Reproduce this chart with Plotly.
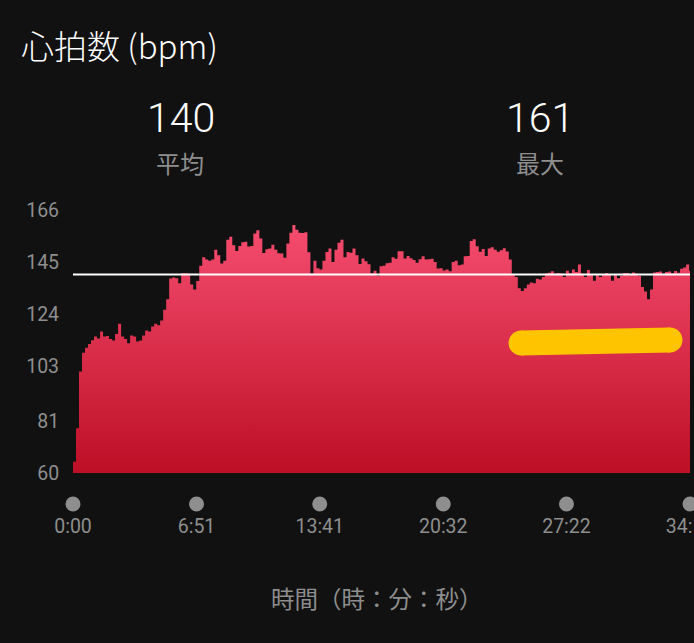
import plotly.graph_objects as go

# ---- data ----
seconds = list(range(0, 2051, 10)) + [2053]
bpm = [
    64.5, 78, 100.9, 108.5, 110.5, 112, 113.5, 115, 114.2, 117,
    115, 115.2, 114, 113.4, 116, 120.2, 115, 114, 112.3, 115.4,
    115, 113, 113.4, 115.4, 117.4, 117, 119, 120.2, 119.5, 121.5,
    125.8, 130, 138.4, 138.8, 138.5, 136.5, 140.5, 140.5, 140.4, 136,
    134, 137.4, 143.5, 147, 146, 145.5, 146, 150, 147.8, 144.4,
    145.5, 154, 155.2, 151.8, 149.5, 151.5, 153, 153.2, 151.3, 151.5,
    156.5, 157.8, 154.5, 148.7, 150.2, 150.5, 152, 150, 148.6, 148.5,
    146.8, 152.5, 156.8, 160, 158, 156.8, 156.7, 157, 149, 140.4,
    145.5, 142.5, 142, 145.5, 149.1, 150.5, 145, 150, 152.8, 154,
    147, 149.1, 148.8, 150.5, 147.8, 144.2, 146.5, 145.3, 144.1, 140.5,
    141.5, 139.5, 143.3, 143.5, 144.5, 144.7, 147, 146.4, 149.4, 149.4,
    146.5, 147.5, 146.6, 145.8, 144.7, 146.2, 147.4, 146, 146.2, 146.4,
    145, 142.4, 142.5, 141.6, 142, 141.3, 145, 145.5, 143.7, 144,
    147.4, 147.5, 153.5, 154.2, 151.4, 149.2, 150.3, 147.5, 150.5, 151,
    150, 149.2, 149.8, 150.6, 149.3, 146, 140.2, 139, 134.5, 133.4,
    134.5, 136, 136.8, 136.5, 138.3, 138, 139, 140.4, 140.7, 141.3,
    140.4, 140.6, 140.4, 139, 141.5, 140.5, 142, 141, 144, 140.3,
    139, 141.8, 140.2, 137.5, 139.7, 139, 140.1, 140.5, 140, 137.5,
    140, 138.5, 139.5, 140.6, 140.6, 140.2, 140.8, 140.4, 139.5, 135,
    133.2, 130, 134, 140.8, 141, 141.2, 140.3, 141, 141.2, 140.5,
    141.4, 140.7, 142.3, 142.8, 144, 141.5, 141,
]
avg_bpm = 140
max_bpm = 161
y_ticks = [60, 81, 103, 124, 145, 166]
x_tick_seconds = [0, 411, 821, 1232, 1642, 2053]
x_tick_labels = ["0:00", "6:51", "13:41", "20:32", "27:22", "34:13"]

title_text = "心拍数 (bpm)"
avg_label = "平均"
max_label = "最大"
x_title = "時間（時：分：秒）"

# ---- layout helpers (pixel -> paper) ----
W, H = 694, 643
L, R, T, B = 73, 4, 210, 170
PW, PH = W - L - R, H - T - B


def px(x):
    return (x - L) / PW


def py(y):
    return (H - B - y) / PH


BG = "#111111"
GRAY = "#8e8e8e"
CJK = "Noto Sans CJK JP"
NUM = "Roboto"

fig = go.Figure()
fig.add_trace(go.Scatter(
    x=seconds, y=bpm, mode="lines", line=dict(width=0, shape="hv"),
    fill="tozeroy",
    fillgradient=dict(type="vertical", start=60, stop=max_bpm,
                      colorscale=[[0, "#bd0f25"], [1, "#f64d70"]]),
    hoverinfo="skip", showlegend=False,
))

fig.add_shape(type="line", xref="paper", yref="y", x0=0, x1=1,
              y0=avg_bpm, y1=avg_bpm, line=dict(color="white", width=2))

# grey dots above the time tick labels
x_max = x_tick_seconds[-1]
for s in x_tick_seconds:
    fig.add_shape(type="circle", xref="paper", yref="paper",
                  xsizemode="pixel", ysizemode="pixel",
                  xanchor=s / x_max, yanchor=py(504),
                  x0=-7.5, x1=7.5, y0=-7.5, y1=7.5,
                  fillcolor=GRAY, line=dict(width=0))

# yellow marker scribble overlay
YEL = "#ffc400"
fig.add_shape(type="line", xref="paper", yref="paper",
              x0=px(521), x1=px(670), y0=py(343), y1=py(340),
              line=dict(color=YEL, width=25))
for cx, cy in [(521, 343), (670, 340)]:
    fig.add_shape(type="circle", xref="paper", yref="paper",
                  xsizemode="pixel", ysizemode="pixel",
                  xanchor=px(cx), yanchor=py(cy),
                  x0=-12.5, x1=12.5, y0=-12.5, y1=12.5,
                  fillcolor=YEL, line=dict(width=0))

ann = [
    dict(text=title_text, x=px(19), y=py(45), xanchor="left", yanchor="middle",
         font=dict(family=CJK, size=33, color="white", weight=300)),
    dict(text=str(avg_bpm), x=px(181), y=py(118), xanchor="center", yanchor="middle",
         font=dict(family=NUM, size=41, color="white", weight=300)),
    dict(text=avg_label, x=px(180), y=py(163), xanchor="center", yanchor="middle",
         font=dict(family=CJK, size=24, color=GRAY)),
    dict(text=str(max_bpm), x=px(540), y=py(118), xanchor="center", yanchor="middle",
         font=dict(family=NUM, size=41, color="white", weight=300)),
    dict(text=max_label, x=px(540), y=py(163), xanchor="center", yanchor="middle",
         font=dict(family=CJK, size=24, color=GRAY)),
    dict(text=x_title, x=px(377), y=py(598), xanchor="center", yanchor="middle",
         font=dict(family=CJK, size=23.5, color=GRAY)),
]
for a in ann:
    fig.add_annotation(xref="paper", yref="paper", showarrow=False, **a)

fig.update_layout(
    width=W, height=H,
    margin=dict(l=L, r=R, t=T, b=B, pad=0, autoexpand=False),
    paper_bgcolor=BG, plot_bgcolor=BG,
    xaxis=dict(range=[0, x_max], showgrid=False, zeroline=False,
               showline=False, tickmode="array", tickvals=x_tick_seconds,
               ticktext=x_tick_labels, ticks="outside", ticklen=36, tickcolor=BG,
               tickfont=dict(family=NUM, size=19.5, color=GRAY),
               ticklabeloverflow="allow", automargin=False, fixedrange=True),
    yaxis=dict(range=[60, 166], showgrid=False, zeroline=False, showline=False,
               tickmode="array", tickvals=y_ticks, ticks="outside", ticklen=9,
               tickcolor=BG, tickfont=dict(family=NUM, size=19.5, color=GRAY),
               automargin=False, fixedrange=True),
)

fig.write_html("out.html",
               config={"displayModeBar": False, "staticPlot": True},
               post_script="document.body.style.margin='0';"
                           "document.body.style.background='#111111';")
